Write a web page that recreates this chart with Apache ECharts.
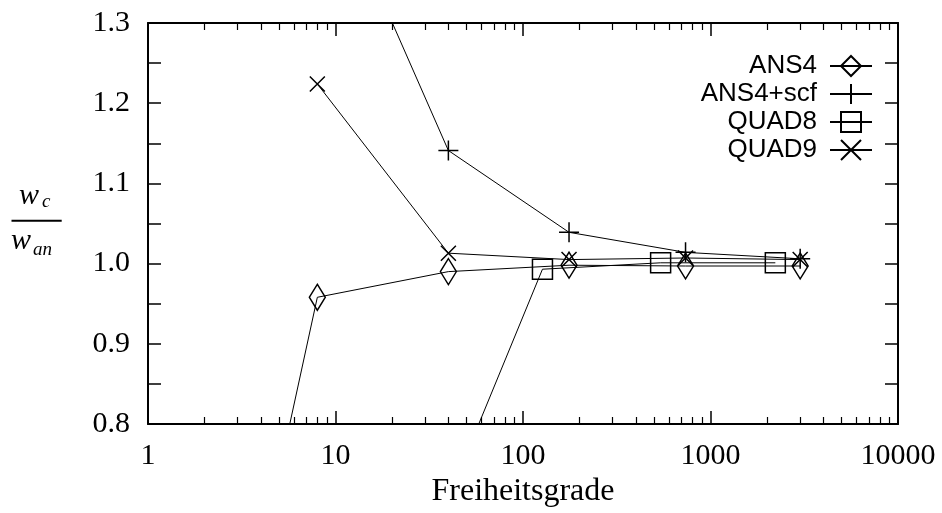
<!DOCTYPE html>
<html>
<head>
<meta charset="utf-8">
<script src="https://cdn.jsdelivr.net/npm/echarts@6/dist/echarts.min.js"></script>
<style>
  html, body { margin: 0; padding: 0; background: #fff; }
  #chart { width: 942px; height: 513px; }
</style>
</head>
<body>
<div id="chart"></div>
<script>
// Degrees of freedom (x) and normalised deflection w_c / w_an (y) per element type
const ans4Dof = [3, 8, 40, 176, 736, 3008];
const ans4Val = [0.50, 0.958, 0.990, 0.998, 0.997, 0.997];

const ans4ScfDof = [8, 40, 176, 736, 3008];
const ans4ScfVal = [1.513, 1.141, 1.039, 1.014, 1.006];

const quad8Dof = [30, 127, 542, 2217];
const quad8Val = [0.637, 0.993, 1.001, 1.001];

const quad9Dof = [8, 40, 176, 736, 3008];
const quad9Val = [1.224, 1.013, 1.005, 1.007, 1.005];

const seriesNames = ['ANS4', 'ANS4+scf', 'QUAD8', 'QUAD9'];
const xTickLabels = ['1', '10', '100', '1000', '10000'];
const xAxisTitle = 'Freiheitsgrade';

const pairs = (xs, ys) => xs.map((x, i) => [x, ys[i]]);

const serif = 'Liberation Serif';
const sans = 'Liberation Sans';
const ink = '#000';

const plusPath = 'path://M0,10L20,10M10,0L10,20';
const crossPath = 'path://M0,0L10,10M10,0L0,10';

function lineSeries(name, data, symbol, size) {
  return {
    name: name,
    type: 'line',
    data: data,
    symbol: symbol,
    symbolSize: size,
    showSymbol: true,
    clip: true,
    lineStyle: { color: ink, width: 1 },
    itemStyle: { color: 'transparent', borderColor: ink, borderWidth: 1.5 },
    emphasis: { disabled: true },
    z: 3
  };
}

const xBase = {
  type: 'log',
  logBase: 10,
  min: 1,
  max: 10000,
  axisLine: { show: true, onZero: false, lineStyle: { color: ink, width: 2 } },
  axisTick: { show: true, inside: true, length: 13, lineStyle: { color: ink, width: 1.5 } },
  minorTick: { show: true, splitNumber: 9, length: 7, lineStyle: { color: ink, width: 1.2 } },
  splitLine: { show: false },
  minorSplitLine: { show: false }
};

const yBase = {
  type: 'value',
  min: 0.8,
  max: 1.3,
  interval: 0.1,
  axisLine: { show: true, onZero: false, lineStyle: { color: ink, width: 2 } },
  axisTick: { show: true, inside: true, length: 13, lineStyle: { color: ink, width: 1.5 } },
  minorTick: { show: true, splitNumber: 2, length: 13, lineStyle: { color: ink, width: 1.5 } },
  splitLine: { show: false },
  minorSplitLine: { show: false }
};

const chart = echarts.init(document.getElementById('chart'), null, { renderer: 'canvas' });

chart.setOption({
  animation: false,
  backgroundColor: '#fff',
  grid: { left: 148, right: 44, top: 23, bottom: 89, containLabel: false },
  legend: {
    orient: 'vertical',
    right: 64,
    top: 47,
    align: 'right',
    itemWidth: 42,
    itemHeight: 25,
    itemGap: 0,
    selectedMode: false,
    data: seriesNames,
    textStyle: { fontFamily: sans, fontSize: 26, color: ink, lineHeight: 28, padding: [0, 8, 0, 0] }
  },
  xAxis: [
    Object.assign({}, xBase, {
      position: 'bottom',
      name: xAxisTitle,
      nameLocation: 'middle',
      nameGap: 39,
      nameTextStyle: { fontFamily: serif, fontSize: 32, color: ink },
      axisLabel: {
        show: true,
        margin: 17,
        fontFamily: serif,
        fontSize: 30,
        color: ink,
        formatter: function (v) {
          const k = Math.round(Math.log10(v));
          return xTickLabels[k] !== undefined ? xTickLabels[k] : '';
        }
      }
    }),
    Object.assign({}, xBase, { position: 'top', axisLabel: { show: false } })
  ],
  yAxis: [
    Object.assign({}, yBase, {
      position: 'left',
      axisLabel: {
        show: true,
        margin: 18,
        fontFamily: serif,
        fontSize: 30,
        color: ink,
        formatter: function (v) { return v.toFixed(1); }
      }
    }),
    Object.assign({}, yBase, { position: 'right', axisLabel: { show: false } })
  ],
  series: [
    lineSeries(seriesNames[0], pairs(ans4Dof, ans4Val), 'diamond', [16, 26]),
    lineSeries(seriesNames[1], pairs(ans4ScfDof, ans4ScfVal), plusPath, 20),
    lineSeries(seriesNames[2], pairs(quad8Dof, quad8Val), 'rect', 20),
    lineSeries(seriesNames[3], pairs(quad9Dof, quad9Val), crossPath, 15)
  ],
  graphic: [
    // y-axis title drawn as a fraction w_c / w_an
    { type: 'text', left: 19, top: 181, silent: true,
      style: { text: 'w', font: 'italic 30px "Liberation Serif"', fill: ink } },
    { type: 'text', left: 42, top: 192, silent: true,
      style: { text: 'c', font: 'italic 19px "Liberation Serif"', fill: ink } },
    { type: 'line', silent: true,
      shape: { x1: 11.5, y1: 220.7, x2: 61.7, y2: 220.7 },
      style: { stroke: ink, lineWidth: 2 } },
    { type: 'text', left: 11, top: 226, silent: true,
      style: { text: 'w', font: 'italic 30px "Liberation Serif"', fill: ink } },
    { type: 'text', left: 33, top: 240, silent: true,
      style: { text: 'an', font: 'italic 19px "Liberation Serif"', fill: ink } }
  ]
});
</script>
</body>
</html>
